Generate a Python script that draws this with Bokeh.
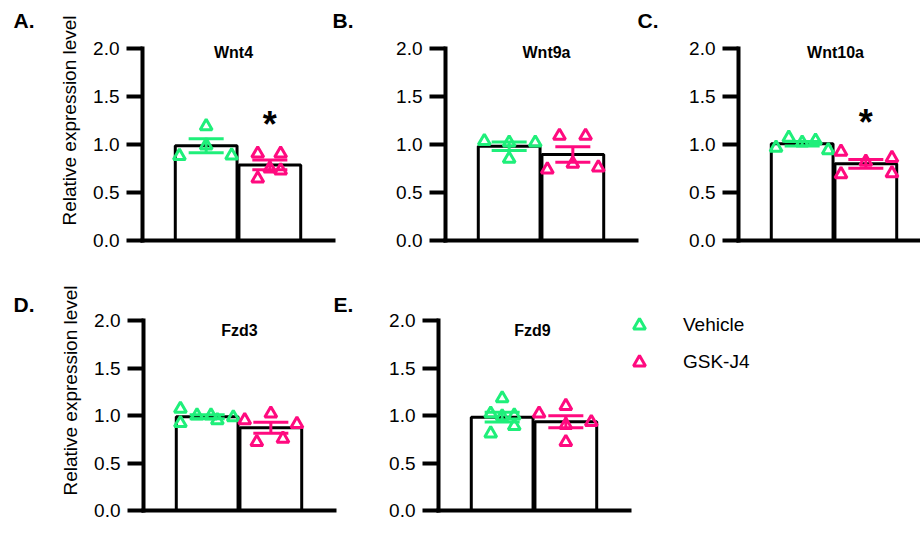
import numpy as np
from bokeh.plotting import figure
from bokeh.layouts import row, column
from bokeh.models import (FixedTicker, PrintfTickFormatter, Label, Legend,
                          LegendItem, ColumnDataSource, Range1d)
from bokeh.embed import file_html
from bokeh.resources import INLINE
from bokeh.core.properties import value

# ---------------- data ----------------
genes = ["Wnt4", "Wnt9a", "Wnt10a", "Fzd3", "Fzd9"]
panel_letters = ["A.", "B.", "C.", "D.", "E."]
groups = ["Vehicle", "GSK-J4"]
y_ticks = [0.0, 0.5, 1.0, 1.5, 2.0]
y_label = "Relative expression level"
significance = ["*", "", "*", "", ""]

wnt4_vehicle = [0.88, 1.19, 0.99, 0.885]
wnt4_vehicle_spread = [-0.42, 0.0, 0.0, 0.40]
wnt4_gsk = [0.905, 0.905, 0.75, 0.73, 0.645]
wnt4_gsk_spread = [-0.19, 0.17, 0.0, 0.17, -0.19]

wnt9a_vehicle = [1.035, 1.02, 0.85, 1.02]
wnt9a_vehicle_spread = [-0.39, 0.0, 0.0, 0.41]
wnt9a_gsk = [1.09, 1.09, 0.80, 0.74, 0.76]
wnt9a_gsk_spread = [-0.21, 0.20, 0.0, -0.40, 0.40]

wnt10a_vehicle = [0.967, 1.07, 1.02, 1.04, 0.94]
wnt10a_vehicle_spread = [-0.41, -0.21, 0.0, 0.21, 0.41]
wnt10a_gsk = [0.925, 0.69, 0.82, 0.86, 0.70]
wnt10a_gsk_spread = [-0.39, -0.39, 0.0, 0.41, 0.41]

fzd3_vehicle = [1.07, 0.92, 1.0, 1.0, 0.95, 0.98]
fzd3_vehicle_spread = [-0.42, -0.42, -0.16, 0.06, 0.16, 0.41]
fzd3_gsk = [0.95, 1.02, 0.91, 0.72, 0.755]
fzd3_gsk_spread = [-0.41, 0.0, 0.41, -0.22, 0.19]

fzd9_vehicle = [1.18, 1.02, 0.99, 1.0, 0.81, 0.89]
fzd9_vehicle_spread = [0.0, -0.18, 0.0, 0.19, -0.18, 0.19]
fzd9_gsk = [1.02, 1.10, 0.90, 0.93, 0.72]
fzd9_gsk_spread = [-0.42, 0.0, 0.0, 0.40, 0.0]

vehicle_sets = [wnt4_vehicle, wnt9a_vehicle, wnt10a_vehicle, fzd3_vehicle, fzd9_vehicle]
vehicle_spreads = [wnt4_vehicle_spread, wnt9a_vehicle_spread, wnt10a_vehicle_spread,
                   fzd3_vehicle_spread, fzd9_vehicle_spread]
gsk_sets = [wnt4_gsk, wnt9a_gsk, wnt10a_gsk, fzd3_gsk, fzd9_gsk]
gsk_spreads = [wnt4_gsk_spread, wnt9a_gsk_spread, wnt10a_gsk_spread,
               fzd3_gsk_spread, fzd9_gsk_spread]

# ---------------- style / layout (page pixels) ----------------
GREEN = "#1FEF7A"
PINK = "#FF0A7F"
COLORS = [GREEN, PINK]
FONT = "Liberation Sans"
BAR_WIDTH = 0.97
CAP_HALF = 0.275
STAR_GAP = 0.30
X_SPAN = 3.0           # category axis length (units)
AXIS_PX = 191          # category axis length (px)
PX_PER_UNIT = AXIS_PX / X_SPAN

STRIP_W = 50
PAGE_W, PAGE_H = 920, 533
# rows: fig top, fig bottom, frame bottom, y of value 2.0
ROWS = [(0, 270, 240, 48), (270, 533, 510, 320)]
# panels: row, fig x0, fig x1, frame x0
PANELS = [
    (0, 50, 360, 142),
    (0, 360, 665, 445),
    (0, 665, 920, 738),
    (1, 50, 360, 143),
    (1, 360, 920, 438),
]
TITLE_POS = [(233, 52), (546, 52), (835, 52), (239, 330), (532, 330)]
LETTER_POS = [(13, 20), (332, 20), (637, 20), (13, 304), (333, 304)]  # left, v-center
LEGEND_GLYPH = 30
LEGEND_TOPLEFT = (624, 310)
LEGEND_H = 2 * LEGEND_GLYPH + 7


def add_letter(p, k, frame_x0, frame_y1):
    lx, ly = LETTER_POS[k]
    p.add_layout(Label(x=lx - frame_x0, y=frame_y1 - ly, x_units="screen",
                       y_units="screen", text=panel_letters[k], text_font=FONT,
                       text_font_style="bold", text_font_size="21px",
                       text_align="left", text_baseline="middle",
                       text_color="black"))


def make_strip():
    s = figure(width=STRIP_W, height=PAGE_H, x_range=Range1d(0, 1),
               y_range=Range1d(0, 1), x_axis_type=None, y_axis_type=None,
               title=None, min_border=0, output_backend="svg",
               toolbar_location=None)
    s.outline_line_color = None
    s.grid.visible = False
    s.border_fill_color = "white"
    add_letter(s, 0, 0, PAGE_H)
    add_letter(s, 3, 0, PAGE_H)
    return s


def make_panel(i):
    r, fx0, fx1, frx0 = PANELS[i]
    fy0, fy1, fry1, y2 = ROWS[r]
    frame_w = fx1 - frx0
    frame_h = fry1 - fy0
    px_per_y = (fry1 - y2) / (y_ticks[-1] - y_ticks[0])
    p = figure(width=fx1 - fx0, height=fy1 - fy0, title=None,
               x_range=Range1d(0, frame_w / PX_PER_UNIT),
               y_range=Range1d(y_ticks[0], y_ticks[0] + frame_h / px_per_y),
               min_border_left=frx0 - fx0, min_border_right=0,
               min_border_top=0, min_border_bottom=fy1 - fry1,
               output_backend="svg", toolbar_location=None)
    p.outline_line_color = None
    p.grid.visible = False
    p.background_fill_color = "white"
    p.border_fill_color = "white"

    ya = p.yaxis[0]
    ya.bounds = (y_ticks[0], y_ticks[-1])
    ya.ticker = FixedTicker(ticks=y_ticks)
    ya.formatter = PrintfTickFormatter(format="%.1f")
    ya.axis_line_width = 4
    ya.axis_line_cap = "square"
    ya.major_tick_line_width = 4
    ya.major_tick_out = 16
    ya.major_tick_in = 0
    ya.minor_tick_line_color = None
    ya.major_label_text_font = FONT
    ya.major_label_text_font_size = "19px"
    ya.major_label_text_color = "black"
    ya.major_label_standoff = 7
    if i in (0, 3):
        ya.axis_label = y_label
        ya.axis_label_text_font = FONT
        ya.axis_label_text_font_size = "19px"
        ya.axis_label_text_font_style = "normal"
        ya.axis_label_text_color = "black"
        ya.axis_label_standoff = 10

    xa = p.xaxis[0]
    xa.bounds = (0, X_SPAN)
    xa.ticker = FixedTicker(ticks=[])
    xa.major_label_text_font_size = "0px"
    xa.axis_line_width = 4
    xa.axis_line_cap = "square"
    xa.major_tick_line_color = None
    xa.minor_tick_line_color = None

    sets = [vehicle_sets[i], gsk_sets[i]]
    spreads = [vehicle_spreads[i], gsk_spreads[i]]
    centers = [1.0, 2.0]
    means = [float(np.mean(s)) for s in sets]
    sems = [float(np.std(s, ddof=1) / np.sqrt(len(s))) for s in sets]

    p.vbar(x=centers, top=means, bottom=0, width=BAR_WIDTH,
           fill_color="white", line_color="black", line_width=3)

    renderers = []
    for g in range(2):
        c = centers[g]
        caps = ColumnDataSource(dict(
            x0=[c - CAP_HALF, c - CAP_HALF, c],
            x1=[c + CAP_HALF, c + CAP_HALF, c],
            y0=[means[g] + sems[g], means[g] - sems[g], means[g] - sems[g]],
            y1=[means[g] + sems[g], means[g] - sems[g], means[g] + sems[g]]))
        p.segment(x0="x0", y0="y0", x1="x1", y1="y1", source=caps,
                  line_color=COLORS[g], line_width=3)
        pts = ColumnDataSource(dict(
            x=[c + d for d in spreads[g]], y=sets[g]))
        rr = p.scatter(x="x", y="y", source=pts, marker="triangle", size=12,
                       fill_color=None, line_color=COLORS[g], line_width=3)
        renderers.append(rr)

    if significance[i]:
        top = max(sets[1])
        p.text(x=[centers[1]], y=[top + STAR_GAP], text=[significance[i]],
               text_font=value(FONT), text_font_style="bold",
               text_font_size="36px", text_align="center",
               text_baseline="middle", text_color="black")

    tx, ty = TITLE_POS[i]
    p.add_layout(Label(x=tx - frx0, y=fry1 - ty, x_units="screen", y_units="screen",
                       text=genes[i], text_font=FONT, text_font_style="bold",
                       text_font_size="16px", text_align="center",
                       text_baseline="middle", text_color="black"))

    # the letter of the next panel in this row lies inside this frame
    if i in (0, 1, 3):
        add_letter(p, i + 1, frx0, fry1)

    if i == 4:
        lg = Legend(items=[LegendItem(label=groups[0], renderers=[renderers[0]]),
                           LegendItem(label=groups[1], renderers=[renderers[1]])],
                    location=(LEGEND_TOPLEFT[0] - frx0,
                              fry1 - (LEGEND_TOPLEFT[1] + LEGEND_H)),
                    glyph_width=LEGEND_GLYPH, glyph_height=LEGEND_GLYPH,
                    label_height=LEGEND_GLYPH,
                    label_standoff=29, spacing=7, padding=0, margin=0,
                    border_line_color=None, background_fill_alpha=0,
                    label_text_font=FONT, label_text_font_size="19px",
                    label_text_color="black", label_text_baseline="middle")
        p.add_layout(lg)
    return p


panels = [make_panel(i) for i in range(5)]
layout = row(make_strip(),
             column(row(panels[0], panels[1], panels[2]),
                    row(panels[3], panels[4])))

open("out.html", "w").write(file_html(layout, INLINE))
